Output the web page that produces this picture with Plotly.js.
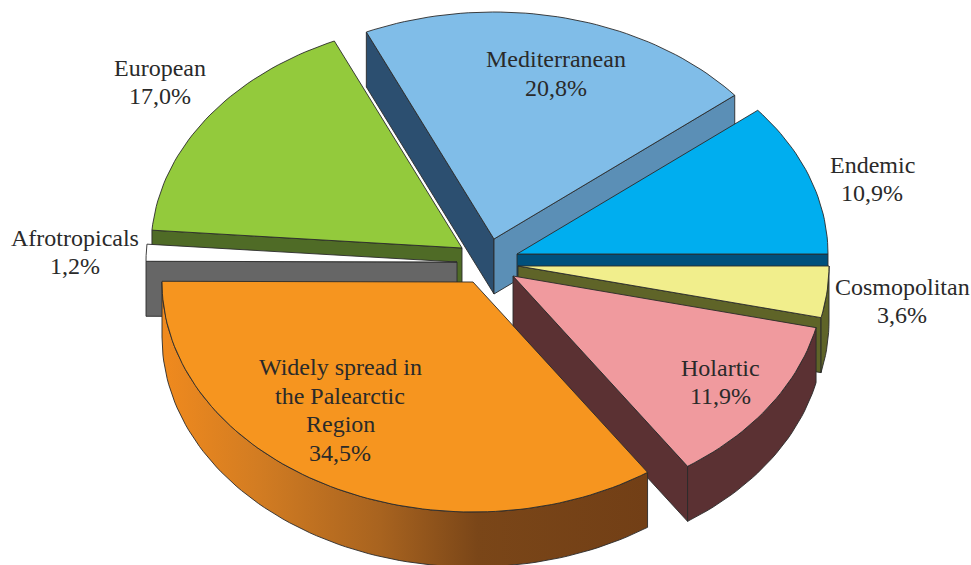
<!DOCTYPE html>
<html>
<head>
<meta charset="utf-8">
<script src="https://cdn.plot.ly/plotly-3.0.1.min.js"></script>
<style>html,body{margin:0;padding:0;background:#fff}#chart{width:971px;height:565px}</style>
</head>
<body>
<div id="chart"></div>
<script>
// Data (clockwise, beginning with the slice that ends at 3 o'clock)
var categories = ['Endemic', 'Cosmopolitan', 'Holartic', 'Widely spread in<br>the Palearctic<br>Region', 'Afrotropicals', 'European', 'Mediterranean'];
var shares = [10.9, 3.6, 11.9, 34.5, 1.2, 17.0, 20.8];

// Styling
var topColors = ['#00aeef', '#f1ee8c', '#f09a9e', '#f6951f', '#ffffff', '#93ca3c', '#80bde8'];
var rimColors = ['#00507c', '#5f6428', '#5b3133', null, '#666666', '#4f6b26', '#2c4f70'];
var startWallColors = [null, null, null, null, '#666666', '#4f6b26', '#2c4f70'];
var endWallColors = ['#00507c', '#5f6428', '#5b3133', null, null, null, '#5b8fb6'];
var orangeRim = [[0, '#f08a1e'], [0.2, '#d27c22'], [0.45, '#a8631f'], [0.65, '#7a4618'], [1, '#723f16']];
var paintOrder = [6, 0, 5, 4, 1, 2, 3];

// Layout of the exploded, tilted pie
var apexX = [517, 518, 513, 473, 457, 462, 494];
var apexY = [254, 266, 276, 282, 262, 248, 239];
var labelX = [872, 902, 720, 340, 75, 160, 556];
var labelY = [179, 301, 382, 410, 252, 82, 73.5];
var radiusX = 311, radiusFront = 230, radiusBack = 227, depth = 55, lineStep = 28.7;
var outline = {color: '#2a2a2a', width: 0.9};

var total = shares.reduce(function (a, b) { return a + b; }, 0);
var degrees = shares.map(function (s) { return s / total * 360; });
var starts = [];
degrees.reduce(function (acc, d) { starts.push(acc); return acc + d; }, -degrees[0]);

function arc(i, a0, a1, drop) {
  var xs = [], ys = [], n = Math.max(2, Math.ceil(Math.abs(a1 - a0) / 1.5));
  for (var k = 0; k <= n; k++) {
    var t = (a0 + (a1 - a0) * k / n) * Math.PI / 180, s = Math.sin(t);
    xs.push(apexX[i] + radiusX * Math.cos(t));
    ys.push(apexY[i] + (s < 0 ? radiusBack : radiusFront) * s + drop);
  }
  return {x: xs, y: ys};
}
function poly(name, x, y, color, extra) {
  var tr = {type: 'scatter', mode: 'lines', name: name, x: x, y: y, fill: 'toself', fillcolor: color,
    line: outline, hoverinfo: 'name', showlegend: false};
  for (var key in extra) tr[key] = extra[key];
  return tr;
}
function wall(i, angle, color) {
  var p = arc(i, angle, angle, 0), ex = p.x[0], ey = p.y[0];
  return poly(categories[i] + ' wall',
    [apexX[i], ex, ex, apexX[i], apexX[i]],
    [apexY[i], ey, ey + depth, apexY[i] + depth, apexY[i]], color);
}

var traces = [];
paintOrder.forEach(function (i) {
  var a0 = starts[i], a1 = a0 + degrees[i];
  if (startWallColors[i]) traces.push(wall(i, a0, startWallColors[i]));
  if (endWallColors[i]) traces.push(wall(i, a1, endWallColors[i]));
  var r0 = Math.max(a0, 0), r1 = Math.min(a1, 180);
  if (r1 > r0) {
    var up = arc(i, r0, r1, 0), down = arc(i, r1, r0, depth);
    var extra = rimColors[i] ? {} : {fillgradient: {type: 'horizontal', colorscale: orangeRim}};
    traces.push(poly(categories[i] + ' rim', up.x.concat(down.x, [up.x[0]]), up.y.concat(down.y, [up.y[0]]),
      rimColors[i] || '#a8631f', extra));
  }
  var o = arc(i, a0, a1, 0);
  traces.push(poly(categories[i].replace(/<br>/g, ' ') + ' ' + shares[i] + '%',
    [apexX[i]].concat(o.x, [apexX[i]]), [apexY[i]].concat(o.y, [apexY[i]]), topColors[i]));
});

var annotations = [];
categories.forEach(function (c, i) {
  var lines = c.split('<br>').concat(shares[i].toFixed(1).replace('.', ',') + '%');
  lines.forEach(function (line, k) {
    annotations.push({x: labelX[i], y: labelY[i] + (k - (lines.length - 1) / 2) * lineStep,
      xref: 'x', yref: 'y', showarrow: false, xanchor: 'center', yanchor: 'middle', text: line,
      font: {family: '"Liberation Serif", serif', size: 24, color: '#2a2a2a'}});
  });
});

Plotly.newPlot('chart', traces, {
  width: 971, height: 565,
  margin: {l: 0, r: 0, t: 0, b: 0},
  paper_bgcolor: '#ffffff', plot_bgcolor: '#ffffff',
  showlegend: false,
  xaxis: {range: [0, 971], visible: false, fixedrange: true},
  yaxis: {range: [565, 0], visible: false, fixedrange: true},
  annotations: annotations
}, {displayModeBar: false});
</script>
</body>
</html>
